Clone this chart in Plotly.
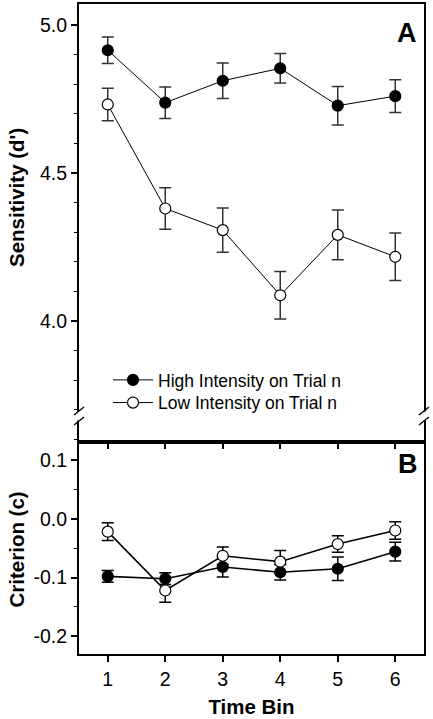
import plotly.graph_objects as go

# ---------------- data ----------------
bins = [1, 2, 3, 4, 5, 6]
x_tick_labels = ["1", "2", "3", "4", "5", "6"]

# Panel A: Sensitivity (d')
d_high = [4.914, 4.737, 4.811, 4.853, 4.727, 4.759]
d_high_err = [0.045, 0.053, 0.060, 0.050, 0.065, 0.055]
d_low = [4.731, 4.380, 4.307, 4.087, 4.291, 4.217]
d_low_err = [0.055, 0.070, 0.075, 0.080, 0.084, 0.080]

# Panel B: Criterion (c)
c_high = [-0.098, -0.102, -0.082, -0.091, -0.085, -0.056]
c_high_err = [0.010, 0.010, 0.017, 0.013, 0.020, 0.016]
c_low = [-0.022, -0.122, -0.063, -0.073, -0.043, -0.020]
c_low_err = [0.015, 0.020, 0.015, 0.019, 0.014, 0.015]

d_tick_vals = [4.0, 4.5, 5.0]
d_tick_text = ["4.0", "4.5", "5.0"]
c_tick_vals = [-0.2, -0.1, 0.0, 0.1]
c_tick_text = ["-0.2", "-0.1", "0.0", "0.1"]

series_names = ["High Intensity on Trial n", "Low Intensity on Trial n"]

# ---------------- layout geometry ----------------
W, H = 433, 719
ML, MR, MT, MB = 79, 9, 4, 65
PW = W - ML - MR
PH = H - MT - MB
split_px = 441.7
split = (H - MB - split_px) / PH


def px(x):
    return (x - ML) / PW


def py(y):
    return (H - MB - y) / PH


FONT = "Liberation Sans, Arial, Helvetica, sans-serif"

fig = go.Figure()


def add(y, err, name, filled, row, legend, lw, errcol):
    fig.add_trace(go.Scatter(
        x=bins, y=y, mode="lines+markers", name=name,
        xaxis="x" if row == 1 else "x2",
        yaxis="y" if row == 1 else "y2",
        line=dict(color="black", width=lw),
        marker=dict(symbol="circle", size=11,
                    color="black" if filled else "white",
                    line=dict(color="black", width=1.2)),
        error_y=dict(type="data", array=err, visible=True,
                     color=errcol, thickness=1.5, width=6),
        showlegend=legend is not None,
        legend=legend if legend else "legend",
    ))


add(d_high, d_high_err, series_names[0], True, 1, "legend", 1, "#333333")
add(d_low, d_low_err, series_names[1], False, 1, "legend2", 1, "#333333")
add(c_high, c_high_err, series_names[0], True, 2, None, 1.6, "black")
add(c_low, c_low_err, series_names[1], False, 2, None, 1.6, "black")

axis_common = dict(showline=True, linecolor="black", linewidth=2, mirror=True,
                   ticks="outside", tickcolor="black", tickwidth=1.5,
                   showgrid=False, zeroline=False, automargin=False,
                   tickfont=dict(family=FONT, size=19.5, color="black"))

legend_common = dict(xanchor="left", yanchor="top", x=px(108),
                     bgcolor="rgba(0,0,0,0)", borderwidth=0, itemwidth=40,
                     font=dict(family=FONT, size=17.5, color="black"))

fig.update_layout(
    width=W, height=H,
    margin=dict(l=ML, r=MR, t=MT, b=MB, pad=0, autoexpand=False),
    paper_bgcolor="white", plot_bgcolor="white",
    font=dict(family=FONT, color="black"),
    xaxis=dict(axis_common, domain=[0, 1], anchor="y", range=[0.5, 6.5],
               tickvals=bins, showticklabels=False, ticklen=5),
    yaxis=dict(axis_common, domain=[split, 1], anchor="x",
               range=[3.593, 5.070], tickvals=d_tick_vals, ticktext=d_tick_text,
               ticklen=6,
               minor=dict(tickmode="linear", tick0=0, dtick=0.1, ticklen=3,
                          tickwidth=1, tickcolor="black", ticks="outside")),
    xaxis2=dict(axis_common, domain=[0, 1], anchor="y2", range=[0.5, 6.5],
                tickvals=bins, ticktext=x_tick_labels, ticklen=6,
                ticklabelstandoff=1,
                title=dict(text="Time Bin", standoff=10,
                           font=dict(family=FONT, size=20.5, weight="bold"))),
    yaxis2=dict(axis_common, domain=[0, split], anchor="x2",
                range=[-0.230, 0.131], tickvals=c_tick_vals, ticktext=c_tick_text,
                ticklen=6,
                minor=dict(tickmode="linear", tick0=0, dtick=0.05, ticklen=3,
                           tickwidth=1, tickcolor="black", ticks="outside")),
    legend=dict(legend_common, y=py(362)),
    legend2=dict(legend_common, y=py(384.7)),
)

annotations = [
    dict(text="A", x=px(407), y=py(33)),
    dict(text="B", x=px(408), y=py(463.5)),
]
anns = []
for a in annotations:
    anns.append(dict(text=a["text"], x=a["x"], y=a["y"], xref="paper", yref="paper",
                     showarrow=False, xanchor="center", yanchor="middle",
                     font=dict(family=FONT, size=27, weight="bold", color="black")))
anns.append(dict(text="Sensitivity (d')", x=px(16), y=py(198), xref="paper", yref="paper",
                 showarrow=False, textangle=-90, xanchor="center", yanchor="middle",
                 font=dict(family=FONT, size=20.5, weight="bold", color="black")))
anns.append(dict(text="Criterion (c)", x=px(16), y=py(549.5), xref="paper", yref="paper",
                 showarrow=False, textangle=-90, xanchor="center", yanchor="middle",
                 font=dict(family=FONT, size=20.5, weight="bold", color="black")))
fig.update_layout(annotations=anns)

# axis-break marks on the left and right spines
shapes = []
for sx in (ML, W - MR):
    shapes.append(dict(type="rect", xref="paper", yref="paper",
                       x0=px(sx - 3), x1=px(sx + 3), y0=py(420.5), y1=py(411.5),
                       fillcolor="white", line=dict(width=0), layer="above"))
    for cy in (411, 421):
        shapes.append(dict(type="line", xref="paper", yref="paper",
                           x0=px(sx - 5), y0=py(cy + 4), x1=px(sx + 5), y1=py(cy - 4),
                           line=dict(color="black", width=1.5), layer="above"))
fig.update_layout(shapes=shapes)

fig.write_html("out.html", config={"displayModeBar": False},
               post_script="document.body.style.margin='0';"
                           "document.body.style.overflow='hidden';")
